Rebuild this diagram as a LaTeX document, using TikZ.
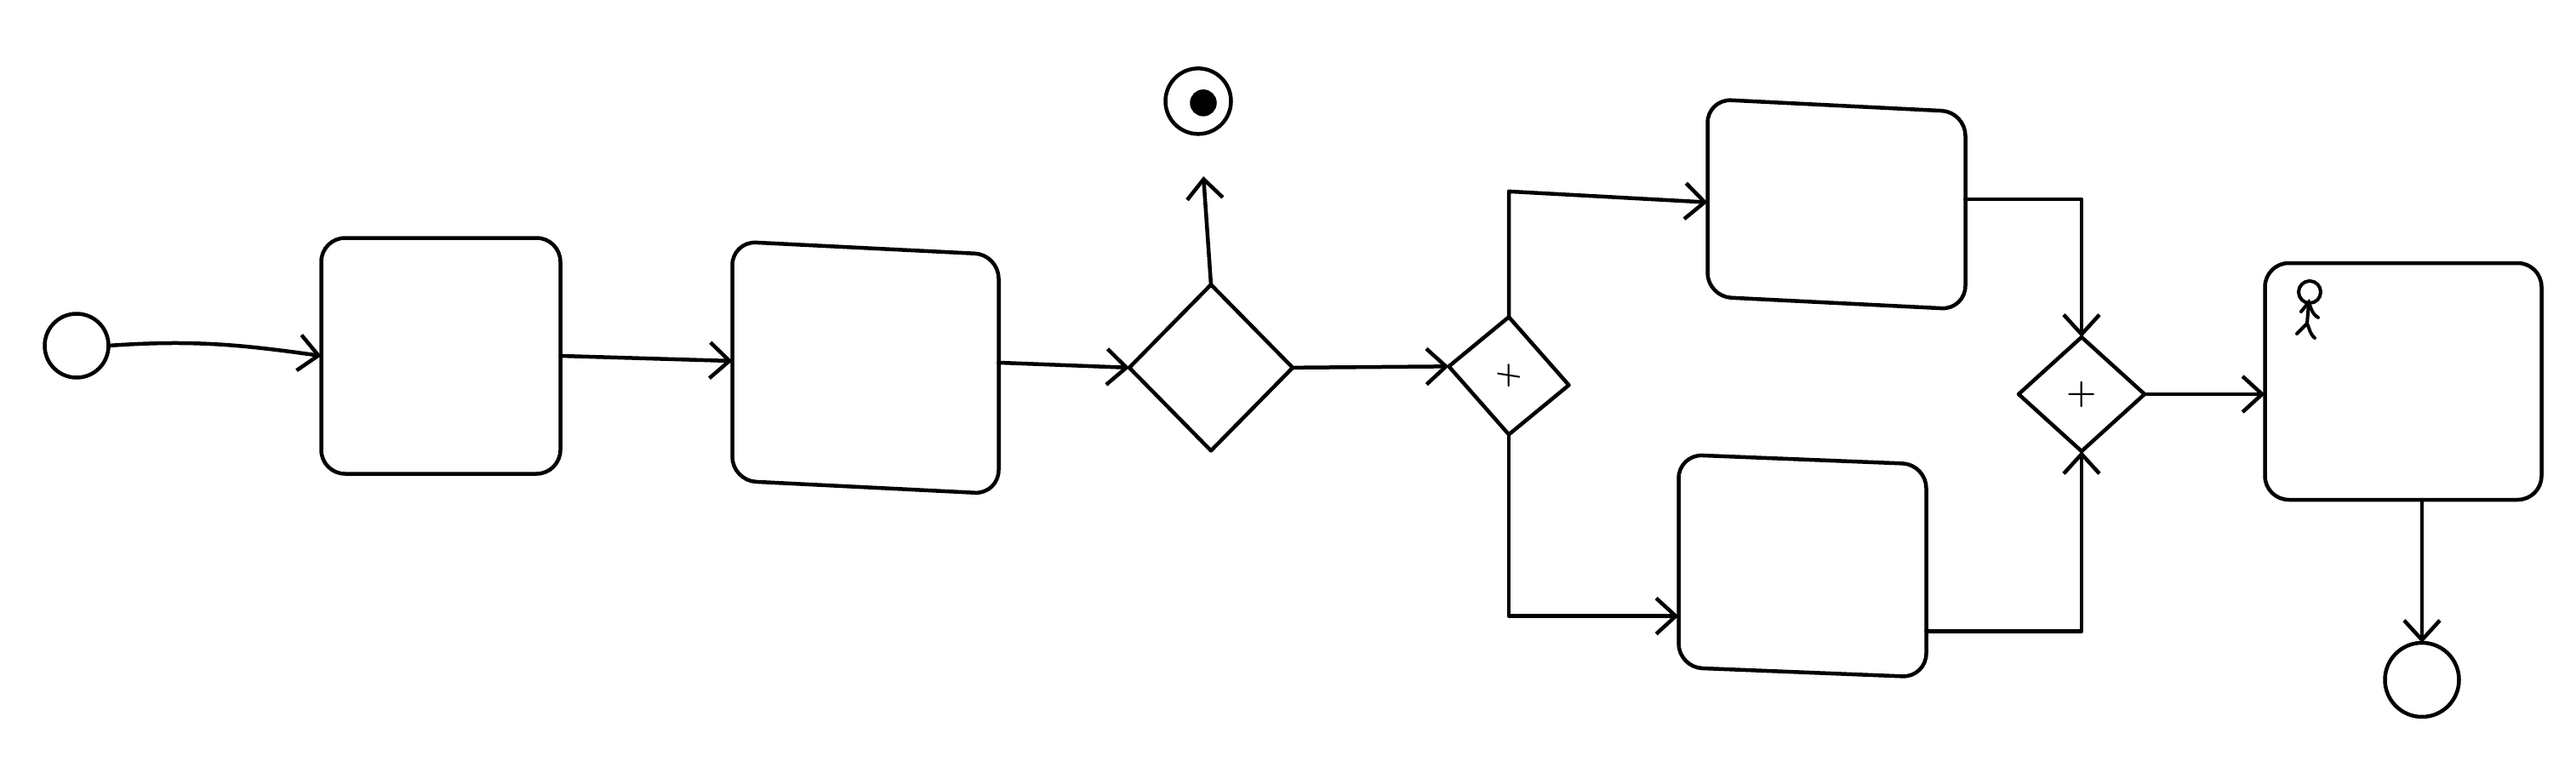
\documentclass[tikz,border=0pt]{standalone}
\usepackage{tikz}
\usetikzlibrary{positioning,arrows.meta,calc,shapes.geometric}

\begin{document}
\begin{tikzpicture}[
  ink/.style={line width=0.45mm, line cap=round, line join=round},
  evt/.style={draw, ink, circle, inner sep=0pt, outer sep=0pt},
  task/.style={draw, ink, rounded corners=2.8mm, inner sep=0pt, outer sep=0pt},
  gate/.style={draw, ink, diamond, aspect=1, inner sep=0pt, outer sep=0pt},
  lean/.style={yslant=#1, transform shape},
  flow/.style={ink, -{Straight Barb[length=2.3mm,width=4.2mm]}}
]
  \useasboundingbox (0,0) rectangle (302.7mm,-91.5mm);

  % Main row
  \node[evt, minimum size=7.5mm] (evstart) at (9mm,-40.6mm) {};
  \node[task, minimum width=28.1mm, minimum height=27.7mm,
        right=25mm of evstart, yshift=-1.2mm] (t1) {};
  \node[task, lean=-0.05, minimum width=31.3mm, minimum height=28.1mm,
        right=20.2mm of t1, yshift=-0.6mm] (t2) {};
  \node[gate, minimum width=19.2mm, minimum height=19.5mm,
        right=15.35mm of t2, yshift=0.78mm] (gwexcl) {};
  \node[gate, lean=-0.156, minimum width=14.1mm, minimum height=13.8mm,
        font=\fontsize{10}{10}\selectfont\bfseries,
        right=18.35mm of gwexcl, yshift=0.15mm] (gwsplit) {+};

  % Stop event above the first gateway
  \node[evt, minimum size=7.7mm, above=17.7mm of gwexcl, xshift=-1.5mm] (evstop) {};
  \node[evt, fill=black, minimum size=2.7mm, xshift=0.6mm, yshift=-0.2mm]
    (evstopdot) at (evstop) {};

  % Parallel branches
  \node[task, lean=-0.05, minimum width=30.3mm, minimum height=23.2mm,
        right=16.3mm of gwsplit, yshift=22mm] (t3) {};
  \node[task, lean=-0.04, minimum width=29.1mm, minimum height=25mm,
        right=12.9mm of gwsplit, yshift=-20.65mm] (t4) {};
  \node[gate, minimum width=14.8mm, minimum height=13.4mm,
        font=\fontsize{11.5}{11.5}\selectfont\bfseries,
        right=6.25mm of t3, yshift=-21.55mm] (gwjoin) {+};

  % Last task
  \node[task, minimum width=32.5mm, minimum height=27.8mm,
        right=14.15mm of gwjoin, yshift=1.5mm] (t5) {};
  \node[evt, minimum size=8.7mm, below=16.8mm of t5, xshift=2.2mm] (evend) {};

  % Person in the last task
  \begin{scope}[shift={(t5.north west)}, line width=0.4mm, line cap=round]
    \draw (5.25mm,-3.4mm) circle (1.3mm);
    \draw (5.15mm,-4.6mm) -- (4.95mm,-7.1mm);
    \draw (4.25mm,-5.7mm) -- (5.15mm,-4.6mm) to[out=-70,in=150] (6.25mm,-6.4mm);
    \draw (3.75mm,-8.3mm) -- (4.95mm,-7.1mm) to[out=-65,in=140] (5.85mm,-8.8mm);
  \end{scope}

  % Connectors
  \draw[flow] (evstart.east) to[out=4,in=172] (t1.west);
  \draw[flow] (t1.east) -- (t2.west);
  \draw[flow] (t2.5) -- (gwexcl.west);
  \draw[flow, shorten >=5mm] (gwexcl.north) -- (evstop);
  \draw[flow] (gwexcl.east) -- (gwsplit.west);
  \coordinate[above=14.75mm of gwsplit.north] (upbend);
  \draw[flow] (gwsplit.north) -- (upbend) -- (t3.182);
  \draw[flow] (gwsplit.south) |- (t4.204);
  \draw[flow] (t3.5.5) -| (gwjoin.north);
  \draw[flow] (t4.334.6) -| (gwjoin.south);
  \draw[flow] (gwjoin.east) -- (gwjoin.east -| t5.west);
  \draw[flow] (evend |- t5.south) -- (evend.north);
\end{tikzpicture}
\end{document}
